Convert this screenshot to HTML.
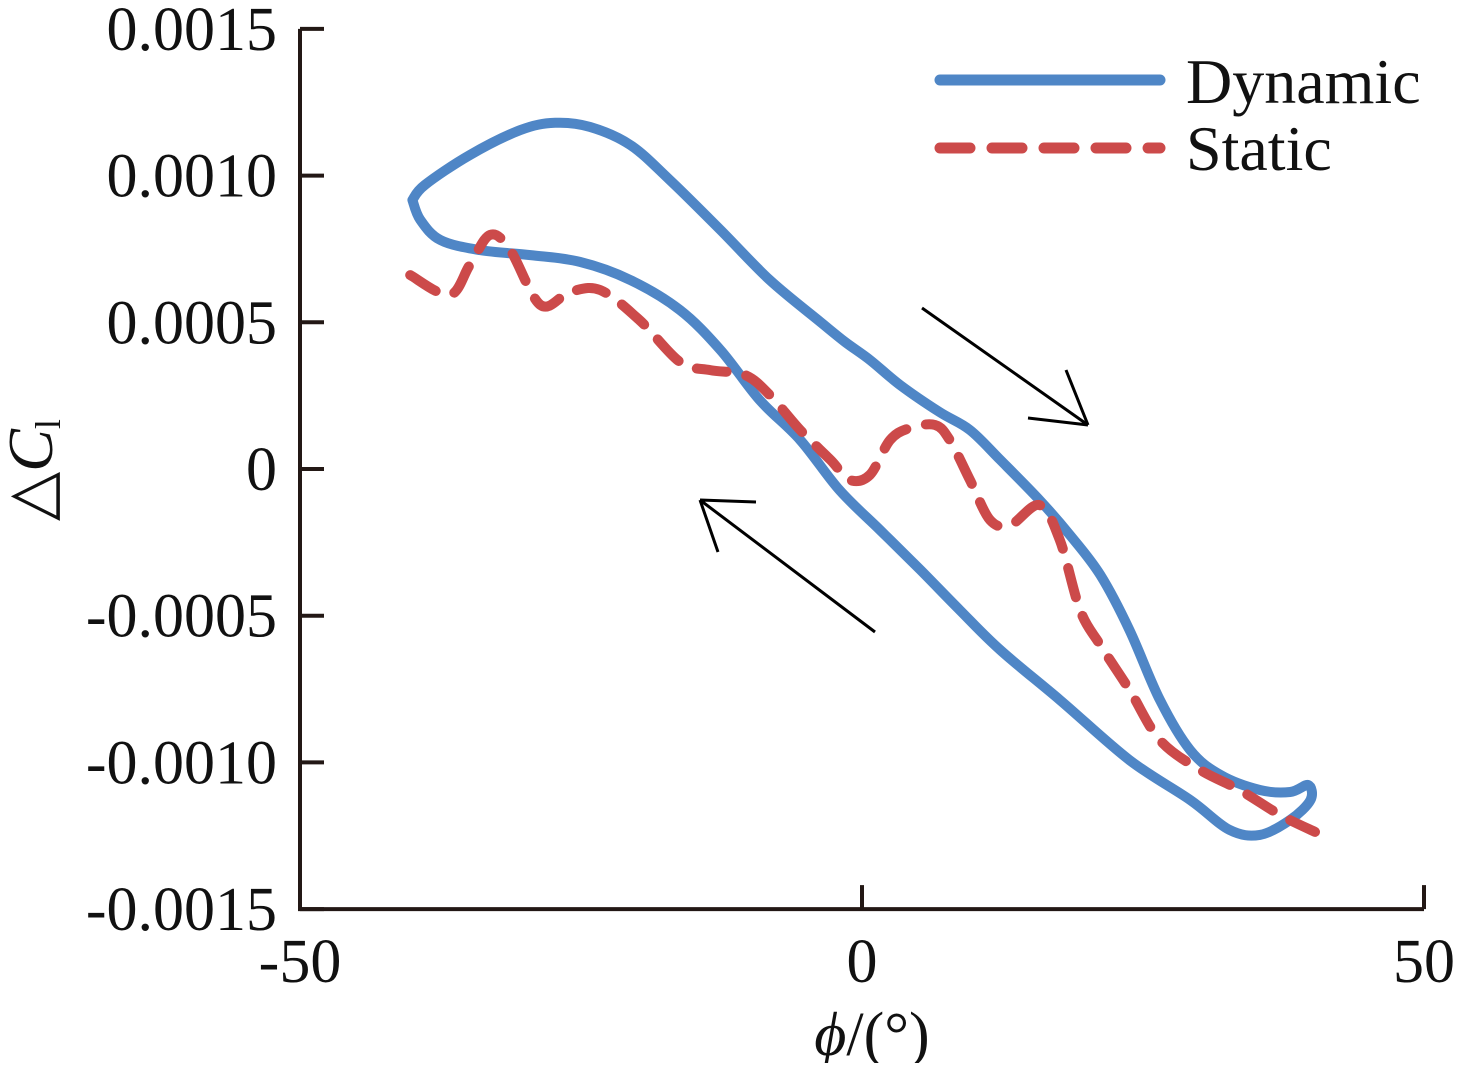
<!DOCTYPE html>
<html><head><meta charset="utf-8"><style>
body{margin:0;background:#fff}
svg text{font-family:"Liberation Serif",serif;fill:#111}
</style></head><body>
<svg id="chart" width="1459" height="1063">
</svg>
<script>
const xTicks=[-50,0,50];
const yTicks=[0.0015,0.0010,0.0005,0,-0.0005,-0.0010,-0.0015];
const yTickLabels=["0.0015","0.0010","0.0005","0","-0.0005","-0.0010","-0.0015"];
const dynX=[-40.0,-38.9,-34.9,-30.4,-27.3,-24.2,-20.6,-17.1,-12.6,-8.2,-3.7,-1.5,0.7,3.4,6.9,9.6,12.3,15.8,18.5,21.2,23.8,26.5,29.2,31.9,35.4,38.1,39.7,39.9,38.1,35.4,32.7,29.2,23.8,17.6,12.3,8.7,5.2,1.6,-2.0,-5.5,-9.1,-12.6,-16.2,-20.6,-25.1,-29.5,-34.0,-37.5,-39.3,-40.0];
const dynY=[0.000917,0.000968,0.00107,0.001155,0.00118,0.001166,0.001104,0.000985,0.000815,0.000644,0.000501,0.000433,0.000372,0.000286,0.000194,0.000133,0.000031,-0.000106,-0.000225,-0.000361,-0.000549,-0.000787,-0.000958,-0.001043,-0.001094,-0.001101,-0.001077,-0.001128,-0.001196,-0.001247,-0.00123,-0.001128,-0.000992,-0.000787,-0.000617,-0.000481,-0.000344,-0.000208,-0.000072,0.000099,0.000235,0.000406,0.000542,0.000644,0.000706,0.000729,0.000746,0.00078,0.000849,0.000917];
const staX=[-40.2,-36.7,-34.9,-33.1,-31.3,-28.6,-26.0,-23.3,-19.8,-16.2,-13.5,-10.4,-8.2,-5.5,-2.8,-1.1,0.7,2.5,4.3,6.5,7.8,9.6,11.4,13.2,15.8,17.6,19.4,21.2,23.8,26.5,30.1,33.6,37.2,40.3];
const staY=[0.000661,0.000593,0.000695,0.000798,0.000746,0.000559,0.000603,0.00061,0.000508,0.000365,0.000337,0.00032,0.000252,0.000133,0.000031,-0.000037,-0.00002,0.000099,0.00014,0.00015,0.000099,-0.000037,-0.000174,-0.000191,-0.000123,-0.000242,-0.000481,-0.0006,-0.000753,-0.000924,-0.001026,-0.001094,-0.001179,-0.001237];

const NS="http://www.w3.org/2000/svg";
const svg=document.getElementById('chart');
const X=v=>862+v*11.24;
const Y=v=>469-v*293400;
function mk(t,a,txt){const e=document.createElementNS(NS,t);for(const k in a)e.setAttribute(k,a[k]);if(txt!==undefined)e.textContent=txt;svg.appendChild(e);return e;}
function smooth(xs,ys){
  const p=xs.map((x,i)=>[X(x),Y(ys[i])]);
  let d=`M${p[0][0].toFixed(1)} ${p[0][1].toFixed(1)}`;
  for(let i=0;i<p.length-1;i++){
    const p0=p[Math.max(0,i-1)],p1=p[i],p2=p[i+1],p3=p[Math.min(p.length-1,i+2)];
    const c1=[p1[0]+(p2[0]-p0[0])/6,p1[1]+(p2[1]-p0[1])/6];
    const c2=[p2[0]-(p3[0]-p1[0])/6,p2[1]-(p3[1]-p1[1])/6];
    d+=`C${c1[0].toFixed(1)} ${c1[1].toFixed(1)} ${c2[0].toFixed(1)} ${c2[1].toFixed(1)} ${p2[0].toFixed(1)} ${p2[1].toFixed(1)}`;
  }
  return d;
}

let e;
e=mk('path',{d:`M${X(-50)} ${Y(0.0015)}V${Y(-0.0015)}H${X(50)}`,fill:'none',stroke:'#231815','stroke-width':4});


yTicks.forEach((v,i)=>{
  e=mk('line',{x1:X(-50),x2:X(-50)+24,y1:Y(v),y2:Y(v),stroke:'#231815','stroke-width':4});
  
  
  e=mk('text',{x:277,y:Y(v)+21,'font-size':62,'text-anchor':'end'},yTickLabels[i]);
  
  
});
xTicks.forEach(v=>{
  e=mk('line',{x1:X(v),x2:X(v),y1:Y(-0.0015),y2:Y(-0.0015)-24,stroke:'#231815','stroke-width':4});
  
  
  e=mk('text',{x:X(v),y:982,'font-size':62,'text-anchor':'middle'},String(v));
  
  
});
e=mk('path',{d:smooth(dynX,dynY),fill:'none',stroke:'#4f86c6','stroke-width':10,'stroke-linejoin':'round','stroke-linecap':'round'});


e=mk('path',{d:smooth(staX,staY),fill:'none',stroke:'#cc4a4a','stroke-width':10,'stroke-dasharray':'30 20','stroke-linejoin':'round','stroke-linecap':'round'});


e=mk('path',{d:'M922 308L1088 425M1088 425L1028 418M1088 425L1066 370',fill:'none',stroke:'#000','stroke-width':3});


e=mk('path',{d:'M875 632L700 500M700 500L756 502M700 500L718 552',fill:'none',stroke:'#000','stroke-width':3});


e=mk('line',{x1:940,x2:1160,y1:80,y2:80,stroke:'#4f86c6','stroke-width':11,'stroke-linecap':'round'});


e=mk('text',{x:1186,y:103,'font-size':64},'Dynamic');


e=mk('line',{x1:940,x2:1160,y1:148,y2:148,stroke:'#cc4a4a','stroke-width':11,'stroke-dasharray':'30 22','stroke-linecap':'round'});


e=mk('text',{x:1186,y:170,'font-size':64},'Static');


e=mk('text',{x:0,y:0,'font-size':64,transform:'translate(52,470) rotate(-90)','text-anchor':'middle'});
e.innerHTML='△<tspan font-style="italic">C</tspan><tspan font-size="36" dy="8">l</tspan>';


e=mk('text',{x:872,y:1055,'font-size':62,'text-anchor':'middle'});
e.innerHTML='<tspan font-style="italic">ϕ</tspan>/(°)';


</script>
</body></html>
